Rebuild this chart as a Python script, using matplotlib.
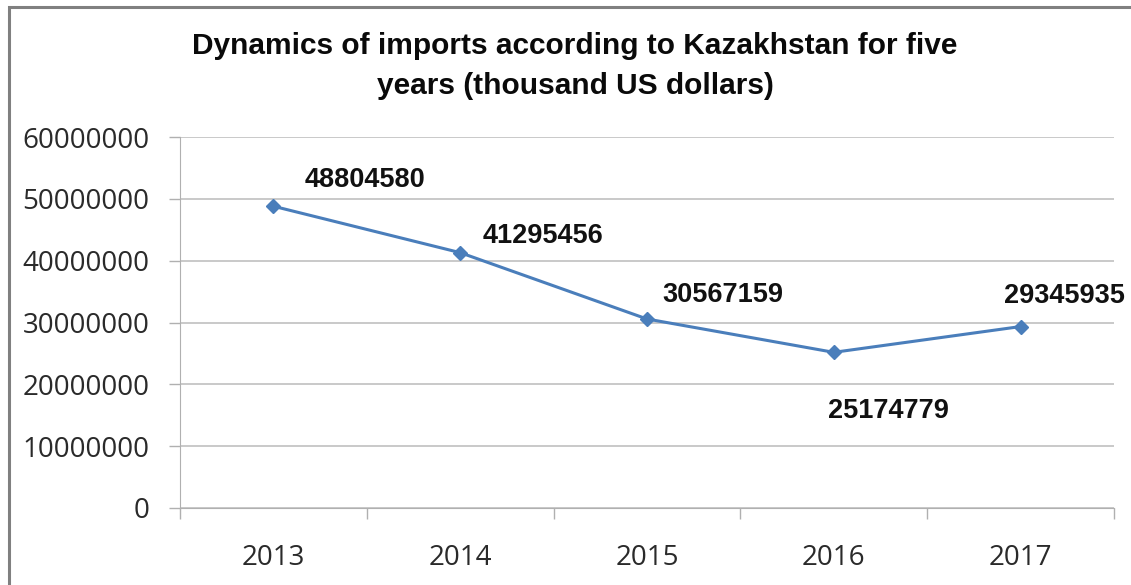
import matplotlib.pyplot as plt
from matplotlib.patches import Rectangle
from matplotlib.ticker import FixedLocator

years = ['2013', '2014', '2015', '2016', '2017']
imports = [48804580, 41295456, 30567159, 25174779, 29345935]
# label offsets in pixels (dx, dy) from the marker, dy up is positive
label_offsets = [(92, 26), (83, 17), (76, 24), (55, -59), (44, 31)]

W, H = 1131, 585
fig = plt.figure(figsize=(W / 100, H / 100), dpi=100)

# outer frame of the chart area
fig.patches.append(Rectangle((9 / W, -0.1), 1.2, 1 - 7 / H + 0.1, transform=fig.transFigure,
                             fill=False, edgecolor='#808080', linewidth=2.2))

ax = fig.add_axes([180 / W, 77 / H, (1114 - 180) / W, (508 - 137) / H])

x = list(range(len(years)))
ax.plot(x, imports, color='#4a7ebb', linewidth=2.2, marker='D', markersize=7,
        markerfacecolor='#4a7ebb', markeredgecolor='#4a7ebb', zorder=3)

for xi, v, (dx, dy) in zip(x, imports, label_offsets):
    ax.annotate(str(v), (xi, v), xytext=(dx * 0.72, dy * 0.72), textcoords='offset points',
                ha='center', va='center', fontsize=19.5, fontweight='bold',
                family='Liberation Sans', color='#111111')

ax.set_xlim(-0.5, len(years) - 0.5)
ax.set_ylim(0, 60000000)
ax.set_yticks(range(0, 60000001, 10000000))
ax.set_yticklabels([str(t) for t in range(0, 60000001, 10000000)])
ax.yaxis.grid(True, color='#c0c0c0', linewidth=1.2)
ax.set_axisbelow(True)

ax.set_xticks(x)
ax.set_xticklabels(years)
ax.xaxis.set_minor_locator(FixedLocator([i - 0.5 for i in range(len(years) + 1)]))
ax.tick_params(axis='x', which='major', length=0, pad=26)
ax.tick_params(axis='x', which='minor', length=8, width=1, color='#b0b0b0', direction='out')
ax.tick_params(axis='y', length=8, width=1, color='#b0b0b0', pad=14)
for lab in ax.get_xticklabels() + ax.get_yticklabels():
    lab.set_fontsize(20)
    lab.set_family('Open Sans')
    lab.set_color('#2a2a2a')

for s in ['top', 'right']:
    ax.spines[s].set_visible(False)
ax.spines['left'].set_color('#b0b0b0')
ax.spines['bottom'].set_color('#b0b0b0')

fig.text(575 / W, 1 - 66 / H, 'Dynamics of imports according to Kazakhstan for five\nyears (thousand US dollars)',
         ha='center', va='center', fontsize=21.5, fontweight='bold', family='Liberation Sans',
         color='#0a0a0a', linespacing=1.5)

fig.savefig('out.png', dpi=100)
